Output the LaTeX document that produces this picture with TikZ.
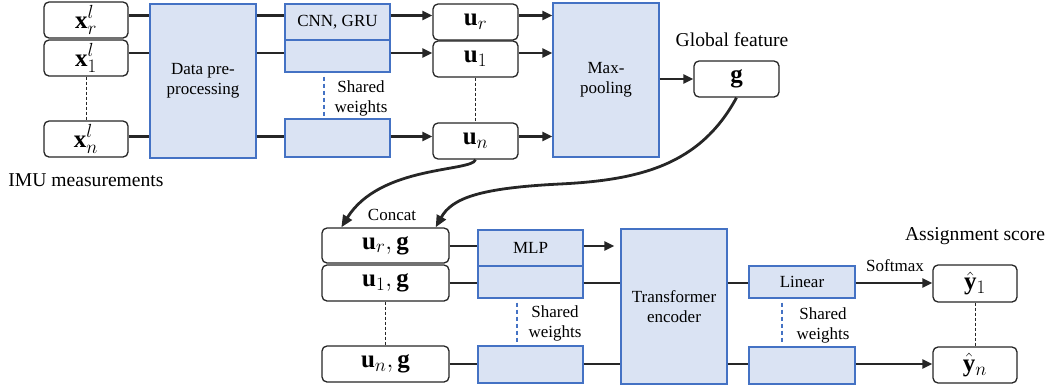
\RequirePackage{fix-cm}
\documentclass[tikz,border=0pt]{standalone}
\usepackage{fontspec}
\setmainfont{Liberation Serif}
\DeclareMathSizes{25}{25}{19}{14}
\usetikzlibrary{arrows.meta,calc}
\definecolor{bfill}{HTML}{DAE3F3}
\definecolor{bline}{HTML}{4472C4}
\definecolor{ink}{HTML}{262626}
\begin{document}
\begin{tikzpicture}[x=1pt,y=-1pt,
  rbox/.style={draw=ink,line width=1.3pt,rounded corners=5pt,fill=white,inner sep=0pt,font=\fontsize{25}{29}\selectfont},
  bbox/.style={draw=bline,fill=bfill,line width=1.3pt,inner sep=0pt,align=center,font=\rmfamily\fontsize{17}{20}\selectfont},
  conn/.style={draw=ink,line width=2.6pt},
  arr/.style={conn,-{Triangle[length=10pt,width=9pt]}},
  carr/.style={conn,line width=2.8pt,-{Triangle[length=12pt,width=10pt]}},
  kdash/.style={draw=ink,line width=1pt,dash pattern=on 3pt off 2pt},
  bdash/.style={draw=bline,line width=1.3pt,dash pattern=on 4pt off 3pt},
  lab/.style={font=\rmfamily\fontsize{19.6}{23}\selectfont},
  slab/.style={font=\rmfamily\fontsize{17}{20}\selectfont,align=center},
  sz/.style 2 args={minimum width=#1pt,minimum height=#2pt}
]
\useasboundingbox (0,0) rectangle (1051,389);

% ---------- top row ----------
\node[rbox,sz={84}{36}] (xr) at (86,20) {$\mathbf{x}_r^l$};
\node[rbox,sz={84}{36}] (x1) at (86,58) {$\mathbf{x}_1^l$};
\node[rbox,sz={84}{36}] (xn) at (86,139) {$\mathbf{x}_n^l$};
\node[lab] (imu) at (86,180) {IMU measurements};

\node[bbox,sz={106}{154}] (pre) at (203,81) {Data pre-\\processing};

\node[bbox,sz={105}{36}] (cnnA) at (337.5,22) {CNN, GRU};
\node[bbox,sz={105}{32}] (cnnB) at (337.5,56) {};
\node[bbox,sz={105}{38}] (cnnN) at (337.5,138) {};
\node[slab] (sw1) at (361,98) {Shared\\weights};

\node[rbox,sz={85}{36}] (ur) at (475.5,22) {$\mathbf{u}_r$};
\node[rbox,sz={85}{36}] (u1) at (475.5,59) {$\mathbf{u}_1$};
\node[rbox,sz={85}{36}] (un) at (475.5,141) {$\mathbf{u}_n$};

\node[bbox,sz={106}{154}] (mp) at (606,80) {Max-\\pooling};

\node[rbox,sz={85}{36}] (g) at (736.5,79) {$\mathbf{g}$};
\node[lab] (gf) at (732,40) {Global feature};

\coordinate (r1) at (0,15.5);
\coordinate (r2) at (0,53);
\coordinate (r3) at (0,136.5);

\draw[conn] (xr.east |- r1) -- (pre.west |- r1);
\draw[conn] (x1.east |- r2) -- (pre.west |- r2);
\draw[conn] (xn.east |- r3) -- (pre.west |- r3);
\draw[conn] (pre.east |- r1) -- (cnnA.west |- r1);
\draw[conn] (pre.east |- r2) -- (cnnB.west |- r2);
\draw[conn] (pre.east |- r3) -- (cnnN.west |- r3);
\draw[arr] (cnnA.east |- r1) -- (ur.west |- r1);
\draw[arr] (cnnB.east |- r2) -- (u1.west |- r2);
\draw[arr] (cnnN.east |- r3) -- (un.west |- r3);
\draw[arr] (ur.east |- r1) -- (mp.west |- r1);
\draw[arr] (u1.east |- r2) -- (mp.west |- r2);
\draw[arr] (un.east |- r3) -- (mp.west |- r3);
\draw[arr] (mp.east |- g.west) -- (g.west);

\draw[kdash] (x1.south) -- (xn.north);
\draw[kdash] (u1.south) -- (un.north);
\draw[bdash,shorten <=4pt] ([xshift=-13.5pt]cnnB.south) -- ([xshift=-13.5pt]cnnN.north);

% ---------- bottom row ----------
\node[rbox,sz={127}{35}] (ugr) at (385.5,245.5) {$\mathbf{u}_r, \mathbf{g}$};
\node[rbox,sz={127}{36}] (ug1) at (385.5,283) {$\mathbf{u}_1, \mathbf{g}$};
\node[rbox,sz={127}{36}] (ugn) at (385.5,364) {$\mathbf{u}_n, \mathbf{g}$};
\node[slab] (cc) at (392,215) {Concat};

\node[bbox,sz={105}{36}] (mlpA) at (530.5,248) {MLP};
\node[bbox,sz={105}{32}] (mlpB) at (530.5,282) {};
\node[bbox,sz={105}{37}] (mlpN) at (530.5,364.5) {};
\node[slab] (sw2) at (555,323) {Shared\\weights};

\node[bbox,sz={106}{155}] (tr) at (674,306.5) {Transformer\\encoder};

\node[bbox,sz={106}{32}] (linA) at (802,282) {Linear};
\node[bbox,sz={106}{37}] (linN) at (802,365.5) {};
\node[slab] (sw3) at (823,325) {Shared\\weights};

\node[rbox,sz={84}{37}] (y1) at (975,283.5) {$\hat{\mathbf{y}}_1$};
\node[rbox,sz={84}{36}] (yn) at (975,365) {$\hat{\mathbf{y}}_n$};
\node[lab] (as) at (975,236) {Assignment score};
\node[slab] (sm) at (895,266) {Softmax};

\coordinate (s1) at (0,246);
\coordinate (s2) at (0,283);
\coordinate (s3) at (0,364);

\draw[conn] (ugr.east |- s1) -- (mlpA.west |- s1);
\draw[conn] (ug1.east |- s2) -- (mlpB.west |- s2);
\draw[conn] (ugn.east |- s3) -- (mlpN.west |- s3);
\draw[arr,shorten >=6pt] (mlpA.east |- s1) -- (tr.west |- s1);
\draw[conn] (mlpB.east |- s2) -- (tr.west |- s2);
\draw[conn] (mlpN.east |- s3) -- (tr.west |- s3);
\draw[conn] (tr.east |- s2) -- (linA.west |- s2);
\draw[conn] (tr.east |- s3) -- (linN.west |- s3);
\draw[arr] (linA.east |- s2) -- (y1.west |- s2);
\draw[arr] (linN.east |- s3) -- (yn.west |- s3);

\draw[kdash] (ug1.south) -- (ugn.north);
\draw[kdash] (y1.south) -- (yn.north);
\draw[bdash,shorten <=4pt,shorten >=3pt] ([xshift=-13.5pt]mlpB.south) -- ([xshift=-13.5pt]mlpN.north);
\draw[bdash,shorten <=4pt,shorten >=3pt] ([xshift=-20pt]linA.south) -- ([xshift=-20pt]linN.north);

% ---------- curved connectors ----------
\coordinate (t1) at ([xshift=20pt]ugr.north west);
\coordinate (t2) at ([xshift=-14pt]ugr.north east);
\draw[carr] (un.south) .. controls (472,172) and (380,165) .. (t1);
\draw[carr] (g.south) .. controls (700,165) and (640,180) .. (560,184)
            .. controls (480,188) and (452,198) .. (t2);
\end{tikzpicture}
\end{document}
